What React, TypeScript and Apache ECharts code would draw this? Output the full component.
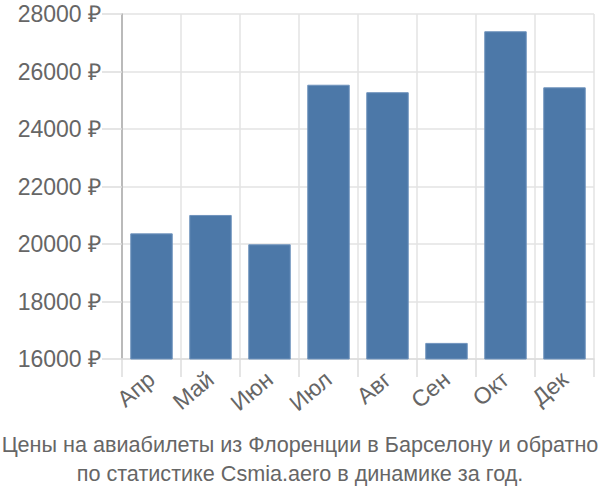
import React, { useEffect, useRef } from "react";
import * as echarts from "echarts";

const categories = ["Апр", "Май", "Июн", "Июл", "Авг", "Сен", "Окт", "Дек"];
const prices = [20370, 21010, 19990, 25540, 25280, 16560, 27400, 25450];
const titleLines = [
  "Цены на авиабилеты из Флоренции в Барселону и обратно",
  "по статистике Csmia.aero в динамике за год.",
];

export default function App() {
  const ref = useRef<HTMLDivElement>(null);
  useEffect(() => {
    const chart = echarts.init(ref.current!, null, { renderer: "svg" });
    chart.setOption({
      animation: false,
      textStyle: { fontFamily: "Liberation Sans, Arial, sans-serif" },
      title: {
        text: titleLines.join("\n"),
        left: "center",
        top: 425,
        textStyle: {
          fontSize: 21.6,
          fontWeight: "normal",
          color: "#666",
          lineHeight: 29,
          fontFamily: "Liberation Sans, Arial, sans-serif",
        },
      },
      grid: { left: 122, right: 6, top: 14, bottom: 141 },
      xAxis: {
        type: "category",
        data: categories,
        axisLine: { show: true, lineStyle: { color: "#ddd", width: 1.5 } },
        axisTick: { show: true, length: 18, lineStyle: { color: "#ddd", width: 1.5 } },
        splitLine: { show: true, lineStyle: { color: "#e3e3e3", width: 1.5 } },
        axisLabel: { rotate: 40, fontSize: 23, color: "#666", margin: 17 },
      },
      yAxis: {
        type: "value",
        min: 16000,
        max: 28000,
        interval: 2000,
        axisLine: { show: true, lineStyle: { color: "#aaa", width: 1.5 } },
        axisTick: { show: true, length: 20, lineStyle: { color: "#ddd", width: 1.5 } },
        splitLine: { show: true, lineStyle: { color: "#e3e3e3", width: 1.5 } },
        axisLabel: {
          fontSize: 23,
          color: "#666",
          margin: 21,
          formatter: (v: number) => `${v} ₽`,
        },
      },
      series: [
        {
          type: "bar",
          data: prices,
          barCategoryGap: "28%",
          itemStyle: { color: "#4c78a8", borderColor: "#6f93bd", borderWidth: 1 },
        },
      ],
    });
    return () => chart.dispose();
  }, []);
  return (
    <div
      ref={ref}
      style={{ position: "fixed", left: 0, top: 0, width: 600, height: 500, background: "#fff" }}
    />
  );
}
